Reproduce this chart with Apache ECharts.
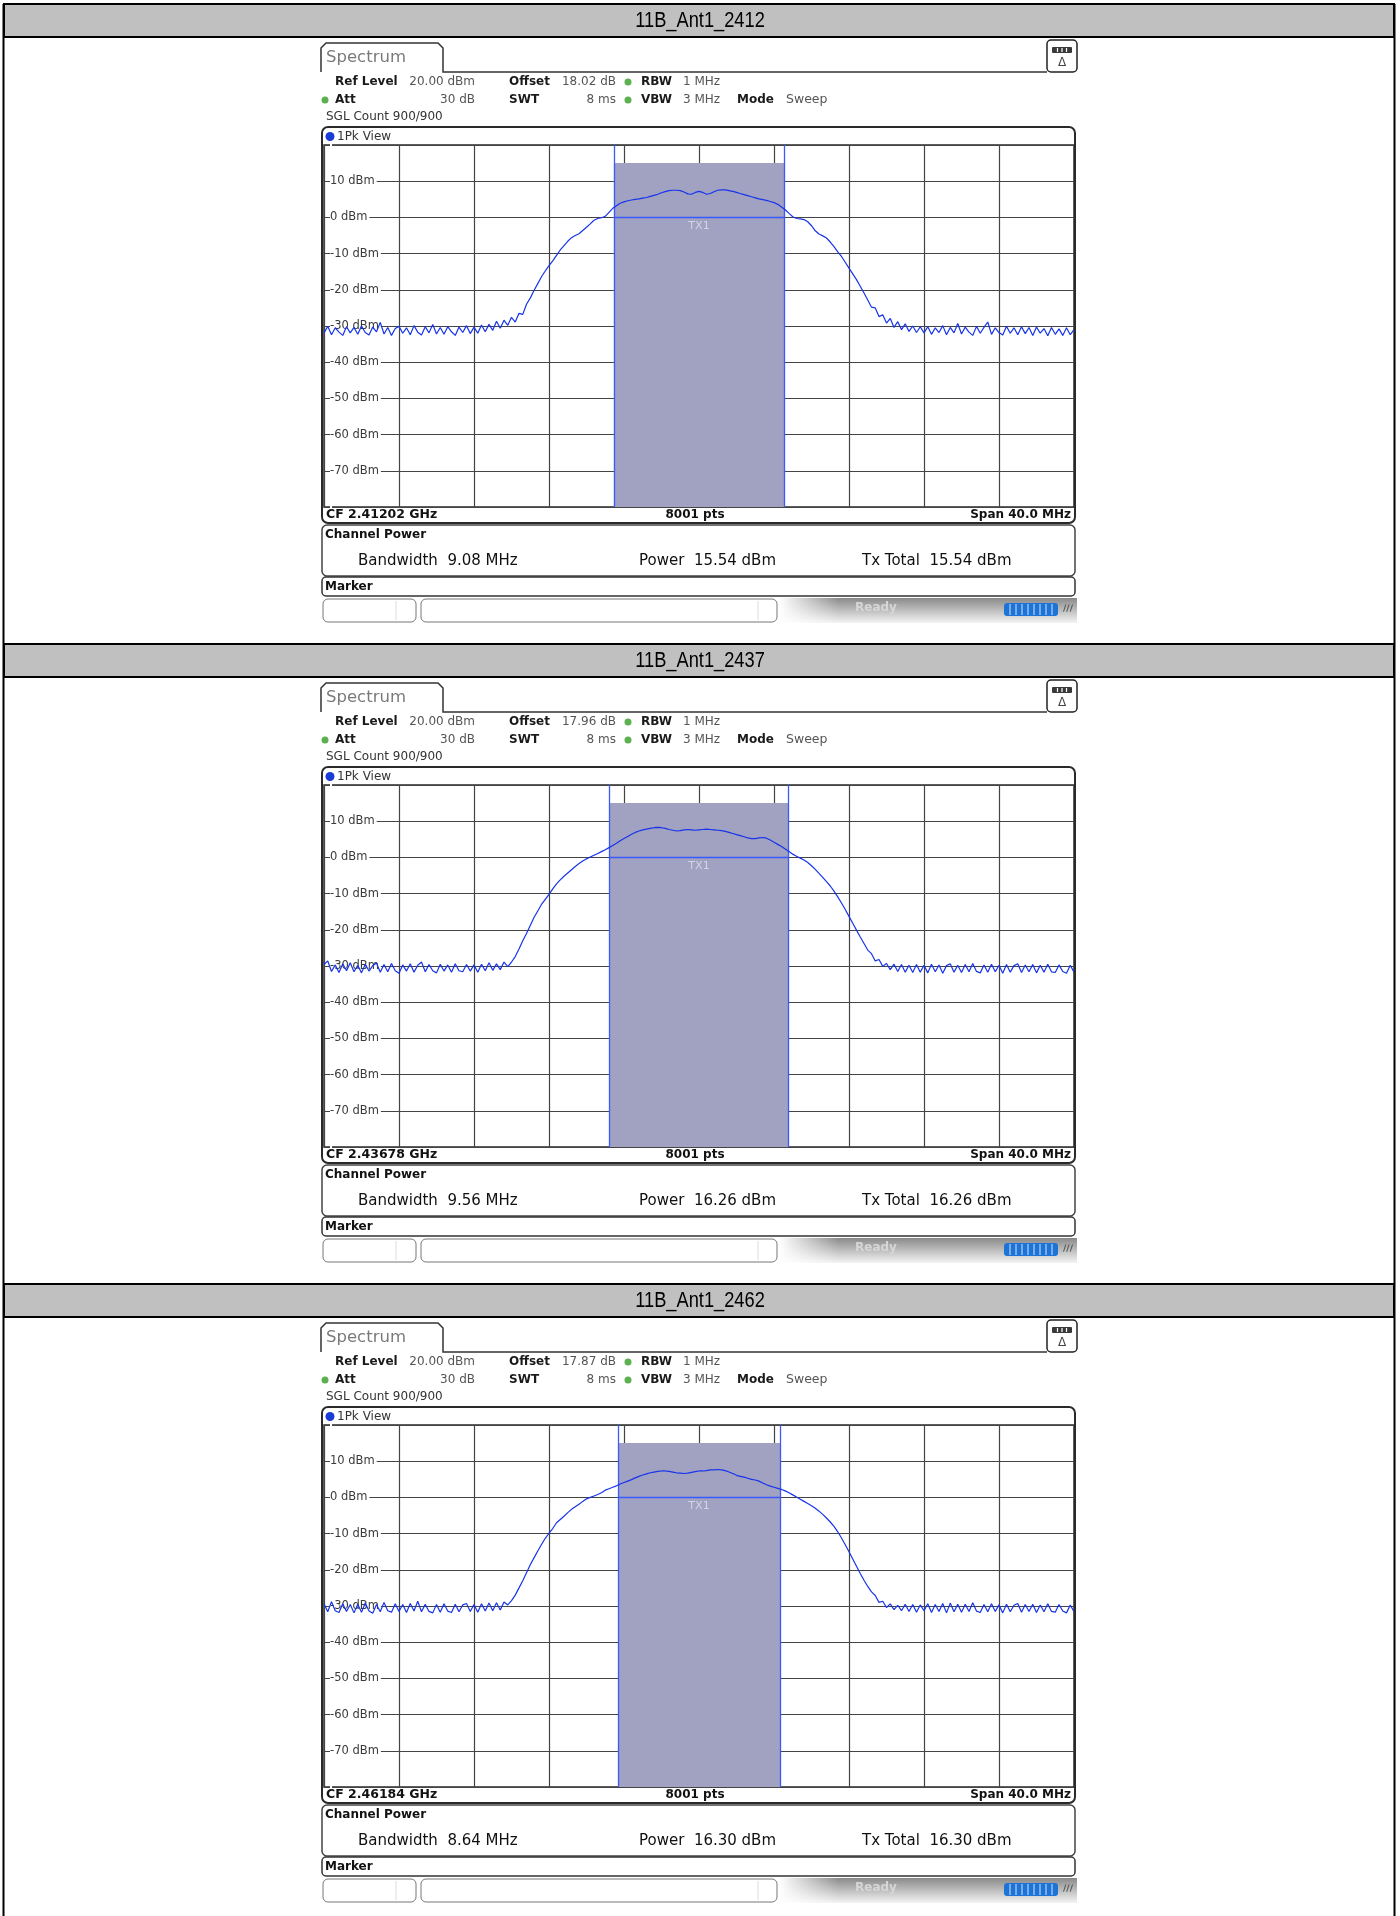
<!DOCTYPE html>
<html><head><meta charset="utf-8">
<script src="https://cdn.jsdelivr.net/npm/echarts@6/dist/echarts.min.js"></script>
<style>html,body{margin:0;padding:0;background:#fff}#c{width:1400px;height:1916px}</style>
</head><body><div id="c"></div>
<script>
// ---------------- data ----------------
const panelTitles = ['11B_Ant1_2412', '11B_Ant1_2437', '11B_Ant1_2462'];
const centerFreqs = ['2.41202 GHz', '2.43678 GHz', '2.46184 GHz'];
const refOffsets = ['18.02 dB', '17.96 dB', '17.87 dB'];
const bandwidthsMHz = [9.08, 9.56, 8.64];
const channelPowers = ['15.54 dBm', '16.26 dBm', '16.30 dBm'];
const txLevelsDbm = [0, 0, 0];
const sweepStartMHz = -20;   // CF - span/2
const sweepStepMHz = 0.2;    // resampled trace step
const spanLabel = 'Span 40.0 MHz';
const pointsLabel = '8001 pts';

const trace2412 = [
-31.9,-30.1,-32.4,-30.5,-31.7,-32.6,-30.2,-31.9,-30.4,-32.3,
-30.0,-31.8,-32.5,-30.3,-31.6,-29.0,-32.2,-30.4,-32.6,-30.7,
-30.1,-32.0,-30.5,-32.4,-29.9,-31.7,-32.5,-30.2,-31.9,-29.6,
-32.2,-30.4,-32.3,-30.2,-31.6,-32.6,-30.3,-31.8,-29.9,-32.1,
-30.3,-32.0,-29.7,-31.6,-29.5,-31.2,-28.7,-30.6,-28.4,-29.8,
-27.6,-28.9,-26.5,-26.8,-24.0,-22.3,-20.2,-18.3,-16.4,-14.8,
-13.3,-12.0,-10.5,-9.0,-7.8,-6.6,-5.6,-5.0,-4.5,-3.6,
-2.7,-1.8,-0.8,-0.3,-0.1,0.3,1.4,2.5,3.2,3.9,
4.3,4.6,4.8,5.0,5.1,5.3,5.5,5.8,6.1,6.4,
6.8,7.1,7.4,7.5,7.5,7.4,7.0,6.5,6.4,6.9,
7.2,6.9,6.4,6.6,7.1,7.5,7.6,7.6,7.4,7.2,
6.9,6.6,6.3,6.0,5.7,5.4,5.1,4.9,4.7,4.4,
4.1,3.6,2.9,2.1,1.1,0.2,-0.3,-0.4,-0.6,-1.2,
-2.3,-3.7,-4.6,-5.1,-5.7,-6.8,-8.1,-9.5,-10.8,-12.4,
-14.0,-15.6,-17.2,-19.0,-20.9,-22.8,-24.8,-25.0,-27.4,-26.9,
-29.2,-27.9,-30.4,-28.8,-31.0,-29.4,-31.5,-30.0,-31.8,-30.2,
-31.9,-30.2,-32.3,-30.5,-31.8,-29.9,-32.4,-30.4,-31.9,-29.3,
-32.2,-30.3,-31.7,-32.6,-30.1,-32.0,-30.4,-28.9,-32.3,-30.5,
-31.8,-32.5,-30.1,-32.0,-30.5,-32.4,-30.2,-32.1,-30.4,-32.6,
-30.3,-32.0,-30.7,-32.7,-30.4,-32.3,-30.8,-32.6,-30.5,-32.4,-31.0
];
const trace2437 = [
-29.6,-28.6,-31.5,-29.7,-31.8,-29.4,-31.3,-29.1,-31.6,-29.8,
-31.9,-29.5,-31.4,-29.9,-29.2,-31.7,-29.6,-31.6,-29.3,-31.3,
-32.0,-29.7,-31.4,-29.4,-31.7,-29.8,-28.9,-31.6,-29.6,-31.3,
-31.9,-29.5,-31.4,-29.7,-31.7,-29.4,-31.3,-31.6,-29.6,-31.4,
-29.7,-31.7,-29.5,-31.3,-29.1,-31.2,-29.4,-31.0,-28.9,-30.2,
-28.9,-27.4,-25.3,-23.0,-21.0,-18.8,-16.6,-14.8,-13.0,-11.6,
-10.2,-8.7,-7.3,-6.2,-5.2,-4.3,-3.4,-2.5,-1.7,-1.0,
-0.4,0.1,0.6,1.1,1.6,2.1,2.7,3.3,3.9,4.6,
5.2,5.8,6.4,6.9,7.3,7.6,7.8,8.0,8.2,8.3,
8.2,8.0,7.7,7.5,7.3,7.4,7.6,7.7,7.6,7.5,
7.6,7.7,7.8,7.7,7.6,7.5,7.4,7.2,6.9,6.6,
6.3,6.0,5.7,5.4,5.2,5.2,5.4,5.5,5.3,4.8,
4.2,3.6,3.0,2.3,1.6,0.9,0.3,-0.2,-0.7,-1.4,
-2.3,-3.3,-4.4,-5.5,-6.7,-7.9,-9.3,-10.9,-12.6,-14.4,
-16.3,-18.2,-20.1,-22.0,-23.8,-25.6,-26.6,-28.6,-28.2,-30.1,
-29.3,-31.0,-29.5,-31.5,-29.6,-31.7,-29.8,-31.8,-29.6,-31.7,
-29.8,-31.9,-29.5,-31.6,-29.7,-32.0,-29.9,-29.4,-31.7,-29.8,
-31.8,-29.6,-31.6,-29.3,-31.5,-31.9,-29.7,-31.7,-29.5,-31.6,
-29.8,-32.0,-29.6,-31.7,-29.9,-29.4,-31.8,-29.7,-31.6,-29.6,
-31.9,-29.8,-31.7,-29.5,-31.6,-31.8,-29.7,-31.5,-32.0,-29.8,-31.7
];
const trace2462 = [
-29.4,-31.6,-28.8,-31.3,-31.8,-29.4,-31.5,-29.6,-31.9,-29.5,
-31.7,-29.2,-31.4,-32.0,-29.6,-31.6,-29.0,-31.3,-31.7,-29.4,
-31.5,-29.6,-31.8,-29.3,-31.4,-28.7,-31.6,-29.5,-31.5,-31.9,
-29.6,-31.7,-29.4,-31.4,-31.8,-29.5,-31.6,-29.7,-29.3,-31.5,
-29.6,-31.7,-29.4,-31.4,-29.2,-31.3,-29.1,-31.1,-28.9,-29.7,
-28.5,-27.0,-25.0,-23.0,-20.8,-18.6,-16.7,-14.8,-13.0,-11.3,
-9.9,-8.6,-7.0,-6.1,-5.2,-4.2,-3.3,-2.6,-1.9,-1.1,
-0.4,0.0,0.4,0.8,1.3,2.0,2.4,2.8,3.2,3.7,
4.1,4.5,4.9,5.4,5.8,6.2,6.5,6.8,7.0,7.2,
7.3,7.3,7.2,7.0,6.8,6.7,6.6,6.7,6.9,7.1,
7.3,7.3,7.4,7.6,7.6,7.7,7.6,7.4,7.0,6.6,
6.1,5.8,5.6,5.3,5.0,4.8,4.5,4.0,3.5,3.1,
2.8,2.5,2.2,1.8,1.3,0.7,0.1,-0.5,-1.1,-1.7,
-2.3,-3.0,-3.8,-4.7,-5.7,-6.8,-8.0,-9.5,-11.2,-13.1,
-15.0,-17.0,-19.0,-21.0,-22.9,-24.6,-26.1,-27.1,-29.0,-28.7,
-30.4,-29.4,-31.0,-29.8,-31.3,-29.5,-31.5,-29.6,-31.7,-29.7,
-31.3,-29.4,-31.8,-29.6,-31.5,-29.3,-31.9,-29.2,-31.6,-29.5,
-31.7,-29.5,-31.5,-29.1,-31.4,-31.8,-29.6,-31.6,-29.4,-31.5,
-29.7,-31.9,-29.5,-31.6,-29.8,-29.3,-31.7,-29.6,-31.5,-29.5,
-31.8,-29.7,-31.6,-29.4,-31.5,-31.7,-29.6,-31.4,-31.9,-29.7,-31.6
];
const traces = [trace2412, trace2437, trace2462];

// ---------------- layout ----------------
const PERIOD = 640;
const FONT = 'DejaVu Sans';
const chart = echarts.init(document.getElementById('c'), null, {renderer: 'canvas'});

function T(x, y, s, size, weight, color, align, family) {
  return {type: 'text', x: x, y: y, z: 30, silent: true,
    style: {text: s, fill: color || '#222', fontSize: size, fontWeight: weight || 'normal',
      fontFamily: family || FONT, textAlign: align || 'left', textVerticalAlign: 'middle',
      align: align || 'left', verticalAlign: 'middle'}};
}
function R(x, y, w, h, r, fill, stroke, lw) {
  return {type: 'rect', z: 25, silent: true, shape: {x: x, y: y, width: w, height: h, r: r || 0},
    style: {fill: fill || 'none', stroke: stroke || null, lineWidth: lw || 1}};
}
function L(x1, y1, x2, y2, color, lw) {
  return {type: 'line', z: 26, silent: true, shape: {x1: x1, y1: y1, x2: x2, y2: y2},
    style: {stroke: color, lineWidth: lw || 1}};
}
function C(cx, cy, r, fill) {
  return {type: 'circle', z: 27, silent: true, shape: {cx: cx, cy: cy, r: r}, style: {fill: fill}};
}

const graphics = [];
graphics.push(L(3.5, 4, 3.5, 1916, '#000', 2));
graphics.push(L(1394.5, 4, 1394.5, 1916, '#000', 2));

for (let k = 0; k < 3; k++) {
  const o = PERIOD * k;
  // table header row
  graphics.push(R(4, 4 + o, 1390, 33, 0, '#c0c0c0', '#000', 2));
  const title = T(0, 0, panelTitles[k], 22, 'normal', '#000', 'center', 'Liberation Sans');
  title.x = 700; title.y = 21 + o; title.scaleX = 0.83; title.scaleY = 1;
  graphics.push(title);
  // tab
  graphics.push({type: 'polyline', z: 25, silent: true,
    shape: {points: [[321, 72 + o], [321, 48 + o], [326, 43 + o], [438, 43 + o], [443, 48 + o], [443, 72 + o], [1047, 72 + o]]},
    style: {stroke: '#333', lineWidth: 1.5, fill: 'none'}});
  graphics.push(T(326, 58 + o, 'Spectrum', 16.5, 'normal', '#7a7a7a'));
  // icon top right
  graphics.push(R(1047, 40 + o, 30, 32, 4, '#fff', '#222', 1.5));
  graphics.push(R(1052, 47 + o, 20, 6, 1, '#3a3a3a', null, 1));
  graphics.push(L(1057.5, 48 + o, 1057.5, 52 + o, '#fff', 1.2));
  graphics.push(L(1062, 48 + o, 1062, 52 + o, '#fff', 1.2));
  graphics.push(L(1066.5, 48 + o, 1066.5, 52 + o, '#fff', 1.2));
  graphics.push(T(1062, 63 + o, '\u0394', 12, 'normal', '#444', 'center'));
  // settings rows
  const g1 = 82 + o, g2 = 100 + o, g3 = 117 + o;
  graphics.push(T(335, g1, 'Ref Level', 12, 'bold', '#1a1a1a'));
  graphics.push(T(475, g1, '20.00 dBm', 12, 'normal', '#555', 'right'));
  graphics.push(T(509, g1, 'Offset', 12, 'bold', '#1a1a1a'));
  graphics.push(T(616, g1, refOffsets[k], 12, 'normal', '#555', 'right'));
  graphics.push(C(628, g1, 3.5, '#5cb04e'));
  graphics.push(T(641, g1, 'RBW', 12, 'bold', '#1a1a1a'));
  graphics.push(T(683, g1, '1 MHz', 12, 'normal', '#555'));
  graphics.push(C(325, g2, 3.5, '#5cb04e'));
  graphics.push(T(335, g2, 'Att', 12, 'bold', '#1a1a1a'));
  graphics.push(T(475, g2, '30 dB', 12, 'normal', '#555', 'right'));
  graphics.push(T(509, g2, 'SWT', 12, 'bold', '#1a1a1a'));
  graphics.push(T(616, g2, '8 ms', 12, 'normal', '#555', 'right'));
  graphics.push(C(628, g2, 3.5, '#5cb04e'));
  graphics.push(T(641, g2, 'VBW', 12, 'bold', '#1a1a1a'));
  graphics.push(T(683, g2, '3 MHz', 12, 'normal', '#555'));
  graphics.push(T(737, g2, 'Mode', 12, 'bold', '#1a1a1a'));
  graphics.push(T(786, g2, 'Sweep', 12.5, 'normal', '#555'));
  graphics.push(T(326, g3, 'SGL Count 900/900', 12, 'normal', '#333'));
  // diagram frame
  graphics.push(R(322, 127 + o, 753, 396, 6, 'none', '#2a2a2a', 2));
  graphics.push(C(330, 136.5 + o, 4.5, '#1c3ad6'));
  graphics.push(T(337, 136.5 + o, '1Pk View', 12, 'normal', '#333'));
  graphics.push(T(326, 515 + o, 'CF ' + centerFreqs[k], 12.5, 'bold', '#111'));
  graphics.push(T(695, 515 + o, pointsLabel, 12, 'bold', '#111', 'center'));
  graphics.push(T(1071, 515 + o, spanLabel, 12, 'bold', '#111', 'right'));
  // channel power box
  graphics.push(R(322, 525 + o, 753, 51, 5, 'none', '#444', 1.5));
  graphics.push(T(325, 535 + o, 'Channel Power', 12, 'bold', '#111'));
  graphics.push(T(358, 561 + o, 'Bandwidth  ' + bandwidthsMHz[k].toFixed(2) + ' MHz', 15, 'normal', '#111'));
  graphics.push(T(639, 561 + o, 'Power  ' + channelPowers[k], 15, 'normal', '#111'));
  graphics.push(T(862, 561 + o, 'Tx Total  ' + channelPowers[k], 15, 'normal', '#111'));
  // marker box
  graphics.push(R(322, 577 + o, 753, 19, 4, 'none', '#333', 1.5));
  graphics.push(T(325, 586.5 + o, 'Marker', 12, 'bold', '#111'));
  // toolbar
  graphics.push(R(323, 599 + o, 93, 23, 5, '#fff', '#777', 1));
  graphics.push(L(396, 601 + o, 396, 620 + o, '#ddd', 1));
  graphics.push(R(421, 599 + o, 356, 23, 5, '#fff', '#777', 1));
  graphics.push(L(758, 601 + o, 758, 620 + o, '#ddd', 1));
  graphics.push({type: 'rect', z: 24, silent: true, shape: {x: 779, y: 598 + o, width: 298, height: 25},
    style: {fill: new echarts.graphic.LinearGradient(0, 0, 0, 1, [
      {offset: 0, color: '#8a8a8a'}, {offset: 0.45, color: '#b9b9b9'}, {offset: 1, color: '#f4f4f4'}])}});
  graphics.push({type: 'rect', z: 24, silent: true, shape: {x: 779, y: 598 + o, width: 60, height: 25},
    style: {fill: new echarts.graphic.LinearGradient(0, 0, 1, 0, [
      {offset: 0, color: 'rgba(255,255,255,1)'}, {offset: 1, color: 'rgba(255,255,255,0)'}])}});
  graphics.push(T(855, 608 + o, 'Ready', 12, 'bold', '#d6d6d6'));
  graphics.push(R(1004, 603 + o, 54, 13, 3, '#1d74d6', null, 1));
  [1010, 1016, 1022, 1028, 1034, 1040, 1046, 1052].forEach(function (x) {
    graphics.push(L(x, 604 + o, x, 615 + o, '#cfe3fb', 1));
  });
  graphics.push(T(1068, 609 + o, '\u2215\u2215\u2215', 9, 'bold', '#555', 'center'));
}

const grids = [], xAxes = [], yAxes = [], series = [];
for (let k = 0; k < 3; k++) {
  grids.push({left: 324, top: 145 + PERIOD * k, width: 750, height: 362, show: true,
    borderColor: '#2a2a2a', borderWidth: 1.5, backgroundColor: '#fff', outerBoundsMode: 'none'});
  xAxes.push({gridIndex: k, type: 'value', min: -20, max: 20, interval: 4,
    axisLine: {show: false}, axisTick: {show: false}, axisLabel: {show: false},
    splitLine: {show: true, lineStyle: {color: '#444', width: 1.2}}});
  yAxes.push({gridIndex: k, type: 'value', min: -80, max: 20, interval: 10,
    axisLine: {show: false}, axisTick: {show: false},
    axisLabel: {inside: true, margin: 6, color: '#3a3a3a', fontSize: 11.5, fontFamily: FONT,
      backgroundColor: '#fff', padding: [1, 2, 1, 0],
      formatter: function (v) { return (v > -80 && v < 20) ? v + ' dBm' : ''; }},
    splitLine: {show: true, lineStyle: {color: '#444', width: 1.2}}});
  const hb = bandwidthsMHz[k] / 2;
  series.push({type: 'line', xAxisIndex: k, yAxisIndex: k, data: [], z: 1, silent: true, animation: false,
    markArea: {silent: true, animation: false, itemStyle: {color: '#a1a1c1', opacity: 1},
      data: [[{coord: [-hb, -80]}, {coord: [hb, 15]}]]},
    markLine: {silent: true, animation: false, symbol: ['none', 'none'],
      lineStyle: {color: '#3a5aff', width: 1.3, type: 'solid'}, label: {show: false},
      data: [
        [{coord: [-hb, 20]}, {coord: [-hb, -80]}],
        [{coord: [hb, 20]}, {coord: [hb, -80]}],
        [{coord: [-hb, txLevelsDbm[k]], label: {show: true, formatter: 'TX1', position: 'insideMiddleBottom',
          color: '#d4d4e4', fontSize: 11, fontFamily: FONT, distance: 3}}, {coord: [hb, txLevelsDbm[k]]}]
      ]}});
  series.push({type: 'line', xAxisIndex: k, yAxisIndex: k, z: 5, animation: false, silent: true,
    showSymbol: false, symbol: 'none',
    lineStyle: {color: '#1634ec', width: 1.2},
    data: traces[k].map(function (v, i) { return [sweepStartMHz + i * sweepStepMHz, v]; })});
}

chart.setOption({
  animation: false,
  backgroundColor: '#fff',
  grid: grids, xAxis: xAxes, yAxis: yAxes, series: series,
  graphic: {elements: graphics}
});
</script></body></html>
